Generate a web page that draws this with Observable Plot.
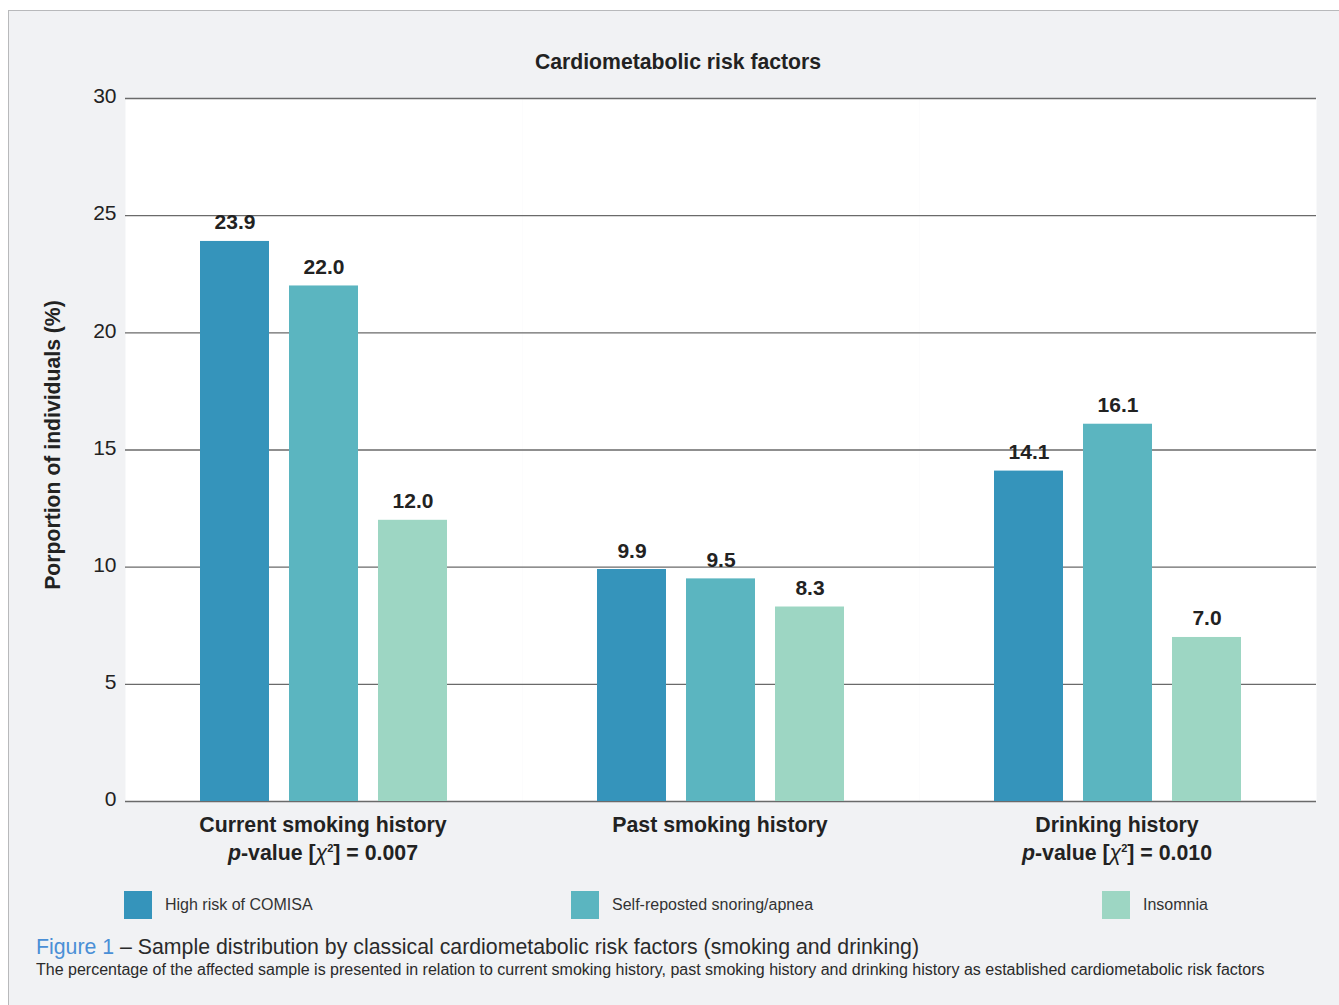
<!DOCTYPE html>
<html>
<head>
<meta charset="utf-8">
<script src="https://cdn.jsdelivr.net/npm/d3@7"></script>
<script src="https://cdn.jsdelivr.net/npm/@observablehq/plot@0.6"></script>
<style>
  html, body { margin: 0; padding: 0; background: #ffffff; width: 1339px; height: 1005px; overflow: hidden; font-family: "Liberation Sans", Arial, Helvetica, sans-serif; }
  #panel { position: absolute; left: 8px; top: 10px; width: 1340px; height: 1000px; background: #f1f2f4; border-left: 1.5px solid #b8b9bb; border-top: 1.5px solid #b8b9bb; }
  #title { position: absolute; left: 0; width: 1356px; top: 50px; text-align: center; font-weight: bold; font-size: 21.2px; color: #222; }
  #chart { position: absolute; left: 0; top: 30px; }
  #ylabel { position: absolute; left: 53px; top: 445px; transform: translate(-50%, -50%) rotate(-90deg); white-space: nowrap; font-weight: bold; font-size: 21.2px; color: #222; }
  .leg { position: absolute; top: 891px; display: flex; align-items: center; font-size: 16px; color: #333; }
  .leg .sw { width: 28px; height: 28px; margin-right: 13px; }
  #cap1 { position: absolute; left: 36px; top: 935px; font-size: 21.3px; color: #2a2a2a; white-space: nowrap; }
  #cap1 .fig { color: #4a8fd6; }
  #cap2 { position: absolute; left: 36px; top: 961px; font-size: 16px; color: #2a2a2a; white-space: nowrap; }
</style>
</head>
<body>
<div id="panel"></div>
<div id="title">Cardiometabolic risk factors</div>
<div id="chart"></div>
<div id="ylabel">Porportion of individuals (%)</div>
<div id="legend"></div>
<div id="cap1"><span class="fig">Figure 1</span> – Sample distribution by classical cardiometabolic risk factors (smoking and drinking)</div>
<div id="cap2">The percentage of the affected sample is presented in relation to current smoking history, past smoking history and drinking history as established cardiometabolic risk factors</div>
<script>
const categories = ["Current smoking history", "Past smoking history", "Drinking history"];
const pValues = ["0.007", null, "0.010"];
const seriesNames = ["High risk of COMISA", "Self-reposted snoring/apnea", "Insomnia"];
const comisaValues = [23.9, 9.9, 14.1];
const snoringValues = [22.0, 9.5, 16.1];
const insomniaValues = [12.0, 8.3, 7.0];
const yTicks = [0, 5, 10, 15, 20, 25, 30];
const seriesColors = ["#3594bb", "#5bb5c0", "#9dd6c3"];

const seriesValues = [comisaValues, snoringValues, insomniaValues];
const data = [];
categories.forEach((c, i) => {
  seriesNames.forEach((s, j) => {
    data.push({category: c, series: s, value: seriesValues[j][i]});
  });
});
const pOf = Object.fromEntries(categories.map((c, i) => [c, pValues[i]]));

const chart = Plot.plot({
  width: 1339,
  height: 840,
  marginLeft: 125,
  marginRight: 23,
  marginTop: 68,
  marginBottom: 69,
  style: {fontFamily: "'Liberation Sans', Arial, sans-serif", background: "transparent", color: "#222"},
  fx: {domain: categories, padding: 0, label: null},
  x: {domain: seriesNames, paddingInner: 0.225, paddingOuter: 0.84, axis: null},
  y: {domain: [0, 30], label: null, axis: null},
  color: {domain: seriesNames, range: seriesColors},
  marks: [
    Plot.frame({fill: "white", stroke: null}),
    Plot.ruleY(yTicks, {stroke: "#6a6a6a", strokeWidth: 1.3}),
    Plot.barY(data, {fx: "category", x: "series", y: "value", fill: "series"}),
    Plot.text(data, {fx: "category", x: "series", y: "value", text: d => d.value.toFixed(1), dy: -12, lineAnchor: "bottom", fontSize: 21, fontWeight: "bold", fill: "#222"}),
    Plot.axisY({ticks: yTicks, tickSize: 0, tickPadding: 9, fontSize: 21, dy: -2, label: null, fill: "#222"}),
    Plot.axisFx({anchor: "bottom", tickSize: 0, tickPadding: 11, fontSize: 21.3, fontWeight: "bold", label: null, lineHeight: 1.3, dx: -1,
      tickFormat: d => pOf[d] ? d + "\np-value [χ2] = " + pOf[d] : d})
  ]
});
document.getElementById("chart").appendChild(chart);

// style p-value lines: italic p and χ, superscript 2
d3.select(chart).selectAll("tspan").each(function() {
  const t = this.textContent;
  if (t.startsWith("p-value")) {
    const rest = t.slice("p-value [χ2]".length);
    const sel = d3.select(this);
    sel.text(null);
    sel.append("tspan").attr("font-style", "italic").text("p");
    sel.append("tspan").text("-value [");
    sel.append("tspan").attr("font-style", "italic").attr("font-weight", "normal").text("χ");
    sel.append("tspan").attr("font-size", "11px").attr("dy", "-8").text("2");
    sel.append("tspan").attr("dy", "8").text("]" + rest);
  }
});

// legend
const legendLefts = [124, 571, 1102];
const legend = document.getElementById("legend");
seriesNames.forEach((s, i) => {
  const div = document.createElement("div");
  div.className = "leg";
  div.style.left = legendLefts[i] + "px";
  const sw = document.createElement("div");
  sw.className = "sw";
  sw.style.background = seriesColors[i];
  const lab = document.createElement("span");
  lab.textContent = s;
  div.appendChild(sw);
  div.appendChild(lab);
  legend.appendChild(div);
});
</script>
</body>
</html>
